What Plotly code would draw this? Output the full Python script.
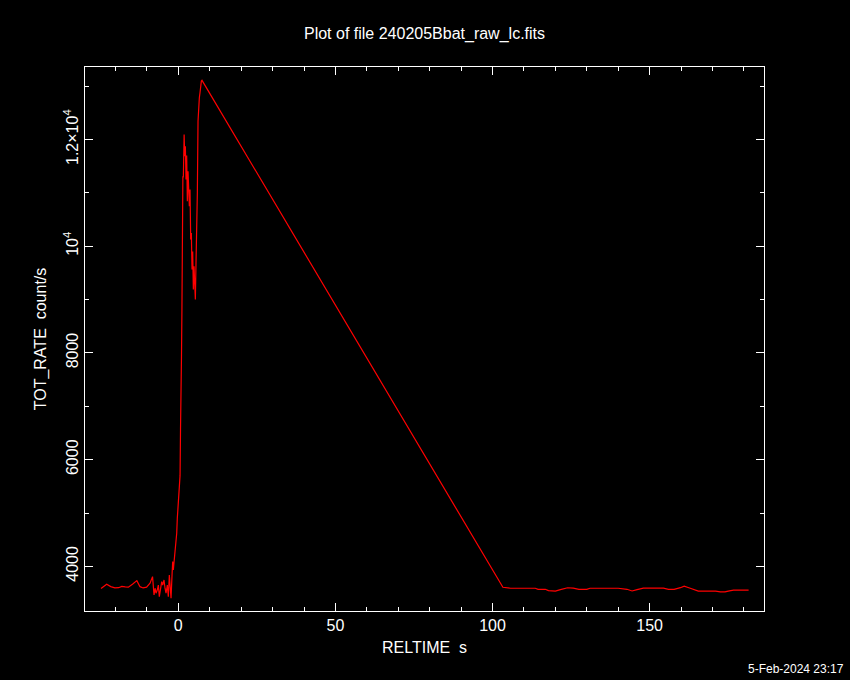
import plotly.graph_objects as go

# Light curve: RELTIME (s) vs TOT_RATE (count/s)
reltime = [
    -24.6, -23.6, -22.8, -21.5, -20.2, -19.0, -18.0, -16.9, -15.9, -14.5, -13.2, -12.2,
    -11.2, -10.1, -9.0, -8.2,
    -7.73, -7.41, -7.10, -6.68, -6.36, -6.05, -5.61, -5.29, -4.97, -4.55, -4.23, -3.91,
    -3.50, -3.18, -2.86, -2.64, -2.32, -2.00, -1.79, -1.59, -1.37, -1.15, -0.83, -0.51,
    -0.32, 0.0,
    0.3, 0.55, 0.7, 0.85, 1.0, 1.15, 1.3, 1.45, 1.6, 1.85,
    2.03, 2.24, 2.45, 2.66, 2.87, 3.09, 3.30, 3.51, 3.72, 3.94, 4.15, 4.36, 4.57, 4.78,
    5.00, 5.21, 5.42, 5.63, 5.85, 6.06, 6.27, 6.48, 6.69, 6.90, 7.12, 7.33, 7.54,
    103.3, 105.7, 108.0, 111.0, 113.6, 114.5, 116.8, 117.8, 120.0, 121.6, 123.9, 125.7,
    127.5, 130.0, 131.0, 134.0, 137.0, 140.0, 142.8, 144.4, 146.0, 148.0, 151.0, 154.4,
    156.0, 157.8, 159.8, 161.0, 162.7, 164.0, 165.5, 168.0, 171.0, 172.5, 174.0, 175.0,
    176.7, 179.0, 181.5,
]
tot_rate = [
    3584, 3630, 3664, 3620, 3597, 3600, 3625, 3615, 3610, 3670, 3732, 3619,
    3595, 3610, 3683, 3807,
    3463, 3590, 3496, 3560, 3650, 3431, 3560, 3713, 3650, 3745, 3590, 3496,
    3650, 3431, 3839, 3560, 3401, 3839, 4088, 3933, 4057, 4245, 4308, 4620,
    4900, 5246,
    5400, 5700, 6567, 7000, 7907, 8811, 10187, 11313, 11290, 12095,
    11688, 11876, 11251, 11700, 10844, 11407, 11126, 10750, 11063, 10125, 10250, 9563, 9900, 9188,
    9625, 9300, 9000, 9688, 10125, 11001, 12345, 12690, 12784, 12878, 13034, 13096, 13110,
    3608, 3589, 3589, 3589, 3589, 3570, 3570, 3544, 3535, 3563, 3599, 3590,
    3570, 3570, 3589, 3589, 3589, 3589, 3570, 3538, 3563, 3590, 3590, 3590,
    3570, 3570, 3600, 3630, 3595, 3563, 3535, 3535, 3535, 3520, 3520, 3535,
    3555, 3555, 3555,
]

x_tickvals = [0, 50, 100, 150]
x_ticktext = ["0", "50", "100", "150"]
y_tickvals = [4000, 6000, 8000, 10000, 12000]
y_ticktext = ["4000", "6000", "8000", "10<sup>4</sup>", "1.2×10<sup>4</sup>"]

title_text = "Plot of file 240205Bbat_raw_lc.fits"
x_title = "RELTIME  s"
y_title = "TOT_RATE  count/s"
date_text = "5-Feb-2024 23:17"

FONT = "Liberation Sans"

fig = go.Figure()
fig.add_trace(go.Scatter(
    x=reltime, y=tot_rate, mode="lines",
    line=dict(color="#ff0000", width=1.2),
    showlegend=False, hoverinfo="skip",
))

axis_common = dict(
    showgrid=False, zeroline=False, showline=True, linecolor="white", linewidth=1,
    mirror="ticks", ticks="inside", ticklen=8, tickwidth=1, tickcolor="white",
    tickfont=dict(family=FONT, size=16, color="white"),
)

fig.update_layout(
    width=850, height=680,
    paper_bgcolor="black", plot_bgcolor="black",
    margin=dict(l=85, r=86, t=67, b=69),
    title=dict(text=title_text, x=0.5, xanchor="center", xref="paper",
               y=1 - 33 / 680, yref="container", yanchor="middle",
               font=dict(family=FONT, size=16, color="white")),
    xaxis=dict(
        range=[-29.7, 186.4], tickvals=x_tickvals, ticktext=x_ticktext,
        minor=dict(dtick=10, tick0=0, ticks="inside", ticklen=4, tickcolor="white", tickwidth=1),
        title=dict(text=x_title, font=dict(family=FONT, size=16, color="white"), standoff=8),
        **axis_common,
    ),
    yaxis=dict(
        range=[3163, 13360], tickvals=y_tickvals, ticktext=y_ticktext, tickangle=-90,
        minor=dict(dtick=1000, tick0=0, ticks="inside", ticklen=4, tickcolor="white", tickwidth=1),
        title=dict(text=y_title, font=dict(family=FONT, size=16, color="white"), standoff=10),
        **axis_common,
    ),
    annotations=[dict(
        text=date_text, xref="paper", yref="paper", x=1 + 82 / 679, y=-(668.8 - 611) / 544,
        xanchor="right", yanchor="middle", showarrow=False,
        font=dict(family=FONT, size=12, color="white"),
    )],
)

fig.write_html(
    "out.html",
    config={"displayModeBar": False},
    post_script="document.body.style.margin='0';document.body.style.background='black';",
)
